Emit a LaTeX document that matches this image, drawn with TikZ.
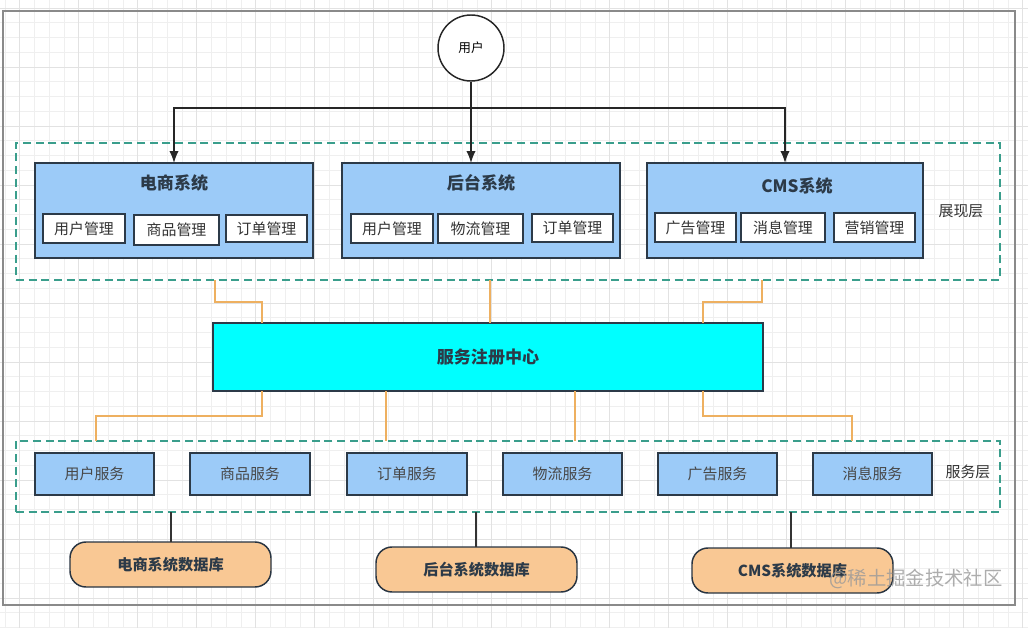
\documentclass[tikz,border=0pt]{standalone}
\usepackage{fontspec}
\setmainfont{Noto Sans CJK SC}
\usetikzlibrary{arrows.meta,calc}
\definecolor{gridminor}{HTML}{EFEFEF}
\definecolor{gridmajor}{HTML}{E2E2E2}
\definecolor{frame}{HTML}{8A8A8A}
\definecolor{teal}{HTML}{3A9E8C}
\definecolor{sysblue}{HTML}{9CCBF8}
\definecolor{edge}{HTML}{2C3A48}
\definecolor{orange}{HTML}{EEB060}
\definecolor{dbfill}{HTML}{F9C894}
\definecolor{regcyan}{HTML}{00FFFF}
\definecolor{txt}{HTML}{333333}
\newcommand\bx[7]{\node[#6, minimum width={(#4-#2)*0.75pt}, minimum height={(#5-#3)*0.75pt}] (#1) at ({(#2+#4)/2},{(#3+#5)/2}) {#7};}
\tikzset{
  sysbox/.style={draw=edge, fill=sysblue, line width=1.1pt, inner sep=0pt, outer sep=0pt},
  inbox/.style={draw=edge, fill=white, line width=1.1pt, inner sep=0pt, outer sep=0pt, text=txt, font=\fontsize{11.2}{13}\selectfont},
  svcbox/.style={draw=edge, fill=sysblue, line width=1.1pt, inner sep=0pt, outer sep=0pt, text=txt!90, font=\fontsize{11.2}{13}\selectfont},
  layer/.style={draw=teal, dash pattern=on 6pt off 3.5pt, line width=1.2pt, inner sep=0pt, outer sep=0pt},
  regbox/.style={draw=edge, fill=regcyan, line width=1.1pt, inner sep=0pt, outer sep=0pt, font=\bfseries\fontsize{12.8}{15}\selectfont, text=edge},
  dbbox/.style={draw=edge!90!black, fill=dbfill, line width=1.1pt, rounded corners=12pt, inner sep=0pt, outer sep=0pt, font=\bfseries\fontsize{11.4}{13}\selectfont, text=edge},
  title/.style={font=\bfseries\fontsize{12.8}{15}\selectfont, text=edge, inner sep=0pt},
  lbl/.style={font=\fontsize{11.2}{13}\selectfont, text=txt, inner sep=0pt},
  arr/.style={draw=black!85, line width=1.1pt, -{Latex[length=9pt,width=7pt]}},
  org/.style={draw=orange, line width=1.1pt},
  dbl/.style={draw=black!80, line width=1.1pt},
}
\begin{document}
\begin{tikzpicture}[x=0.75pt,y=-0.75pt]
\useasboundingbox (0,0) rectangle (1028,628);
\fill[white] (0,0) rectangle (1028,628);
% grid
\foreach \i in {-1,...,68} {
  \pgfmathsetmacro\gx{19.7+14.75*(\i-1)}
  \draw[gridminor, line width=0.6pt] (\gx,0) -- (\gx,628);
}
\foreach \i in {-1,...,42} {
  \pgfmathsetmacro\gy{8+14.75*\i}
  \draw[gridminor, line width=0.6pt] (0,\gy) -- (1028,\gy);
}
\foreach \i in {0,...,17} {
  \pgfmathsetmacro\gx{19.7+59*\i}
  \draw[gridmajor, line width=0.7pt] (\gx,0) -- (\gx,628);
}
\foreach \i in {0,...,10} {
  \pgfmathsetmacro\gy{8+59*\i}
  \draw[gridmajor, line width=0.7pt] (0,\gy) -- (1028,\gy);
}
% outer frame
\draw[frame, line width=1.3pt] (3,11) rectangle (1015,605);

% user
\node[draw=black!85, fill=white, circle, line width=1.1pt, minimum size={66*0.75pt}, inner sep=0pt, font=\fontsize{9.5}{11}\selectfont] (user) at (471,48) {用户};

% presentation layer
\bx{pres}{16}{143}{1000}{280}{layer}{}
\node[lbl] (preslbl) at (961,211) {展现层};

% systems
\bx{sys1}{35}{163}{313}{258}{sysbox}{}
\bx{sys2}{342}{163}{620}{258}{sysbox}{}
\bx{sys3}{647}{163}{923}{258}{sysbox}{}
\node[title] (t1) at (174,183) {电商系统};
\node[title] (t2) at (481,183) {后台系统};
\node[title] (t3) at (797,186) {CMS系统};

\bx{m11}{43}{214}{125}{243}{inbox}{用户管理}
\bx{m12}{134}{215}{219}{245}{inbox}{商品管理}
\bx{m13}{226}{215}{307}{242}{inbox}{订单管理}
\bx{m21}{351}{214}{433}{243}{inbox}{用户管理}
\bx{m22}{438}{214}{523}{243}{inbox}{物流管理}
\bx{m23}{532}{214}{613}{242}{inbox}{订单管理}
\bx{m31}{655}{213}{736}{242}{inbox}{广告管理}
\bx{m32}{741}{213}{825}{242}{inbox}{消息管理}
\bx{m33}{834}{213}{915}{242}{inbox}{营销管理}

% arrows from user
\coordinate (hub) at (471,108);
\draw[arr] (user.south) -- (user.south |- sys2.north);
\draw[arr] (user.south |- hub) -| (sys1.north);
\draw[arr] (user.south |- hub) -| (sys3.north);

% registry
\bx{reg}{213}{323}{763}{391}{regbox}{服务注册中心}

% service layer
\bx{svc}{16}{441}{1000}{512}{layer}{}
\node[lbl] (svclbl) at (968,472) {服务层};
\bx{s1}{35}{453}{154}{495}{svcbox}{用户服务}
\bx{s2}{190}{453}{310}{495}{svcbox}{商品服务}
\bx{s3}{347}{453}{467}{495}{svcbox}{订单服务}
\bx{s4}{503}{453}{622}{495}{svcbox}{物流服务}
\bx{s5}{658}{453}{777}{495}{svcbox}{广告服务}
\bx{s6}{813}{453}{932}{495}{svcbox}{消息服务}

% orange connectors
\draw[org] (pres.south -| 215,0) |- (262,302) -- (reg.north -| 262,0);
\draw[org] (pres.south -| 490,0) -- (reg.north -| 490,0);
\draw[org] (pres.south -| 762,0) |- (703,302) -- (reg.north -| 703,0);
\draw[org] (reg.south -| 262,0) |- (96,416) -- (svc.north -| 96,0);
\draw[org] (reg.south -| 386,0) -- (svc.north -| 386,0);
\draw[org] (reg.south -| 575,0) -- (svc.north -| 575,0);
\draw[org] (reg.south -| 703,0) |- (852,416) -- (svc.north -| 852,0);

% databases
\bx{db1}{70}{542}{271}{587}{dbbox}{电商系统数据库}
\bx{db2}{376}{547}{577}{592}{dbbox}{后台系统数据库}
\bx{db3}{692}{548}{893}{593}{dbbox}{CMS系统数据库}
\draw[dbl] (svc.south -| 171,0) -- (db1.north -| 171,0);
\draw[dbl] (svc.south -| 476,0) -- (db2.north -| 476,0);
\draw[dbl] (svc.south -| 791,0) -- (db3.north -| 791,0);

% watermark
\node[font=\fontsize{14.5}{16}\selectfont, text=black!40, opacity=0.8, inner sep=0pt] (wm) at (916,579) {@稀土掘金技术社区};
\end{tikzpicture}
\end{document}
